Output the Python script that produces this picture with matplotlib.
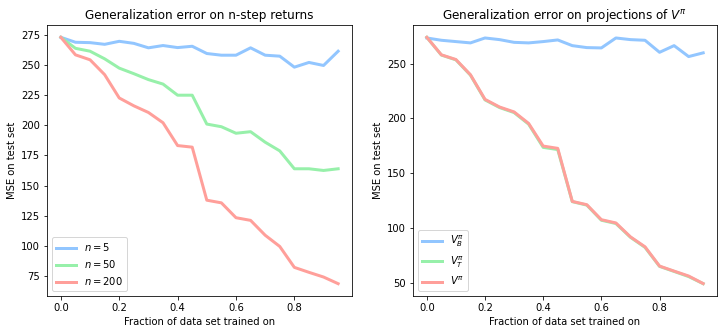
import matplotlib
matplotlib.use("Agg")
import matplotlib.pyplot as plt
import numpy as np

fractions = [0.0, 0.05, 0.10, 0.15, 0.20, 0.25, 0.30, 0.35, 0.40, 0.45,
             0.50, 0.55, 0.60, 0.65, 0.70, 0.75, 0.80, 0.85, 0.90, 0.95]

# Left panel: n-step returns
n5 = [272.8, 268.7, 268.4, 267.0, 269.5, 267.8, 264.1, 266.0, 264.3, 265.4,
      259.4, 258.0, 258.0, 264.1, 258.0, 257.2, 248.1, 252.0, 249.5, 261.3]
n50 = [272.8, 263.7, 261.3, 255.0, 247.3, 242.7, 237.8, 234.1, 224.9, 224.9,
       201.0, 198.8, 193.4, 194.7, 186.0, 178.8, 164.0, 164.0, 162.6, 164.0]
n200 = [272.8, 258.3, 254.2, 241.9, 222.6, 216.1, 210.6, 202.1, 183.2, 181.9,
        138.0, 135.8, 123.5, 121.3, 109.0, 99.7, 82.4, 78.3, 74.4, 68.9]

# Right panel: projections of V^pi
vb = [273.6, 271.5, 270.3, 269.1, 273.6, 272.1, 269.6, 269.1, 270.3, 271.8,
      266.6, 264.8, 264.5, 273.6, 272.1, 271.5, 260.5, 266.6, 256.6, 260.0]
vt = [274.2, 258.0, 253.6, 239.6, 217.0, 210.0, 205.4, 194.8, 173.6, 171.6,
      124.0, 120.8, 107.0, 104.0, 91.4, 82.2, 64.8, 60.2, 55.5, 49.0]
vpi = [274.2, 258.2, 253.9, 240.0, 217.5, 210.5, 206.0, 195.5, 174.8, 172.7,
       124.2, 121.2, 107.5, 104.5, 91.8, 82.7, 65.1, 60.5, 56.0, 49.1]

left_labels = [r"$n=5$", r"$n=50$", r"$n=200$"]
right_labels = [r"$V^\pi_B$", r"$V^\pi_T$", r"$V^\pi$"]
colors = ["#92C6FF", "#97F0AA", "#FF9F9A"]

fig = plt.figure(figsize=(724 / 72, 335 / 72), dpi=72)
ax1 = fig.add_axes([47 / 724, 39 / 335, 305 / 724, 271 / 335])
ax2 = fig.add_axes([413 / 724, 39 / 335, 304 / 724, 271 / 335])

for ys, lab, c in zip([n5, n50, n200], left_labels, colors):
    ax1.plot(fractions, ys, color=c, lw=3, label=lab)
for ys, lab, c in zip([vb, vt, vpi], right_labels, colors):
    ax2.plot(fractions, ys, color=c, lw=3, label=lab)

ax1.set_title("Generalization error on n-step returns", fontsize=12)
ax2.set_title(r"Generalization error on projections of $V^\pi$", fontsize=12)
for ax in (ax1, ax2):
    ax.set_xlabel("Fraction of data set trained on", fontsize=10)
    ax.set_ylabel("MSE on test set", fontsize=10)
    ax.tick_params(labelsize=10)
    ax.set_xticks([0.0, 0.2, 0.4, 0.6, 0.8])
    ax.legend(loc="lower left", fontsize=10)
ax1.set_yticks([75, 100, 125, 150, 175, 200, 225, 250, 275])
ax2.set_yticks([50, 100, 150, 200, 250])

fig.savefig("out.png", dpi=72)
